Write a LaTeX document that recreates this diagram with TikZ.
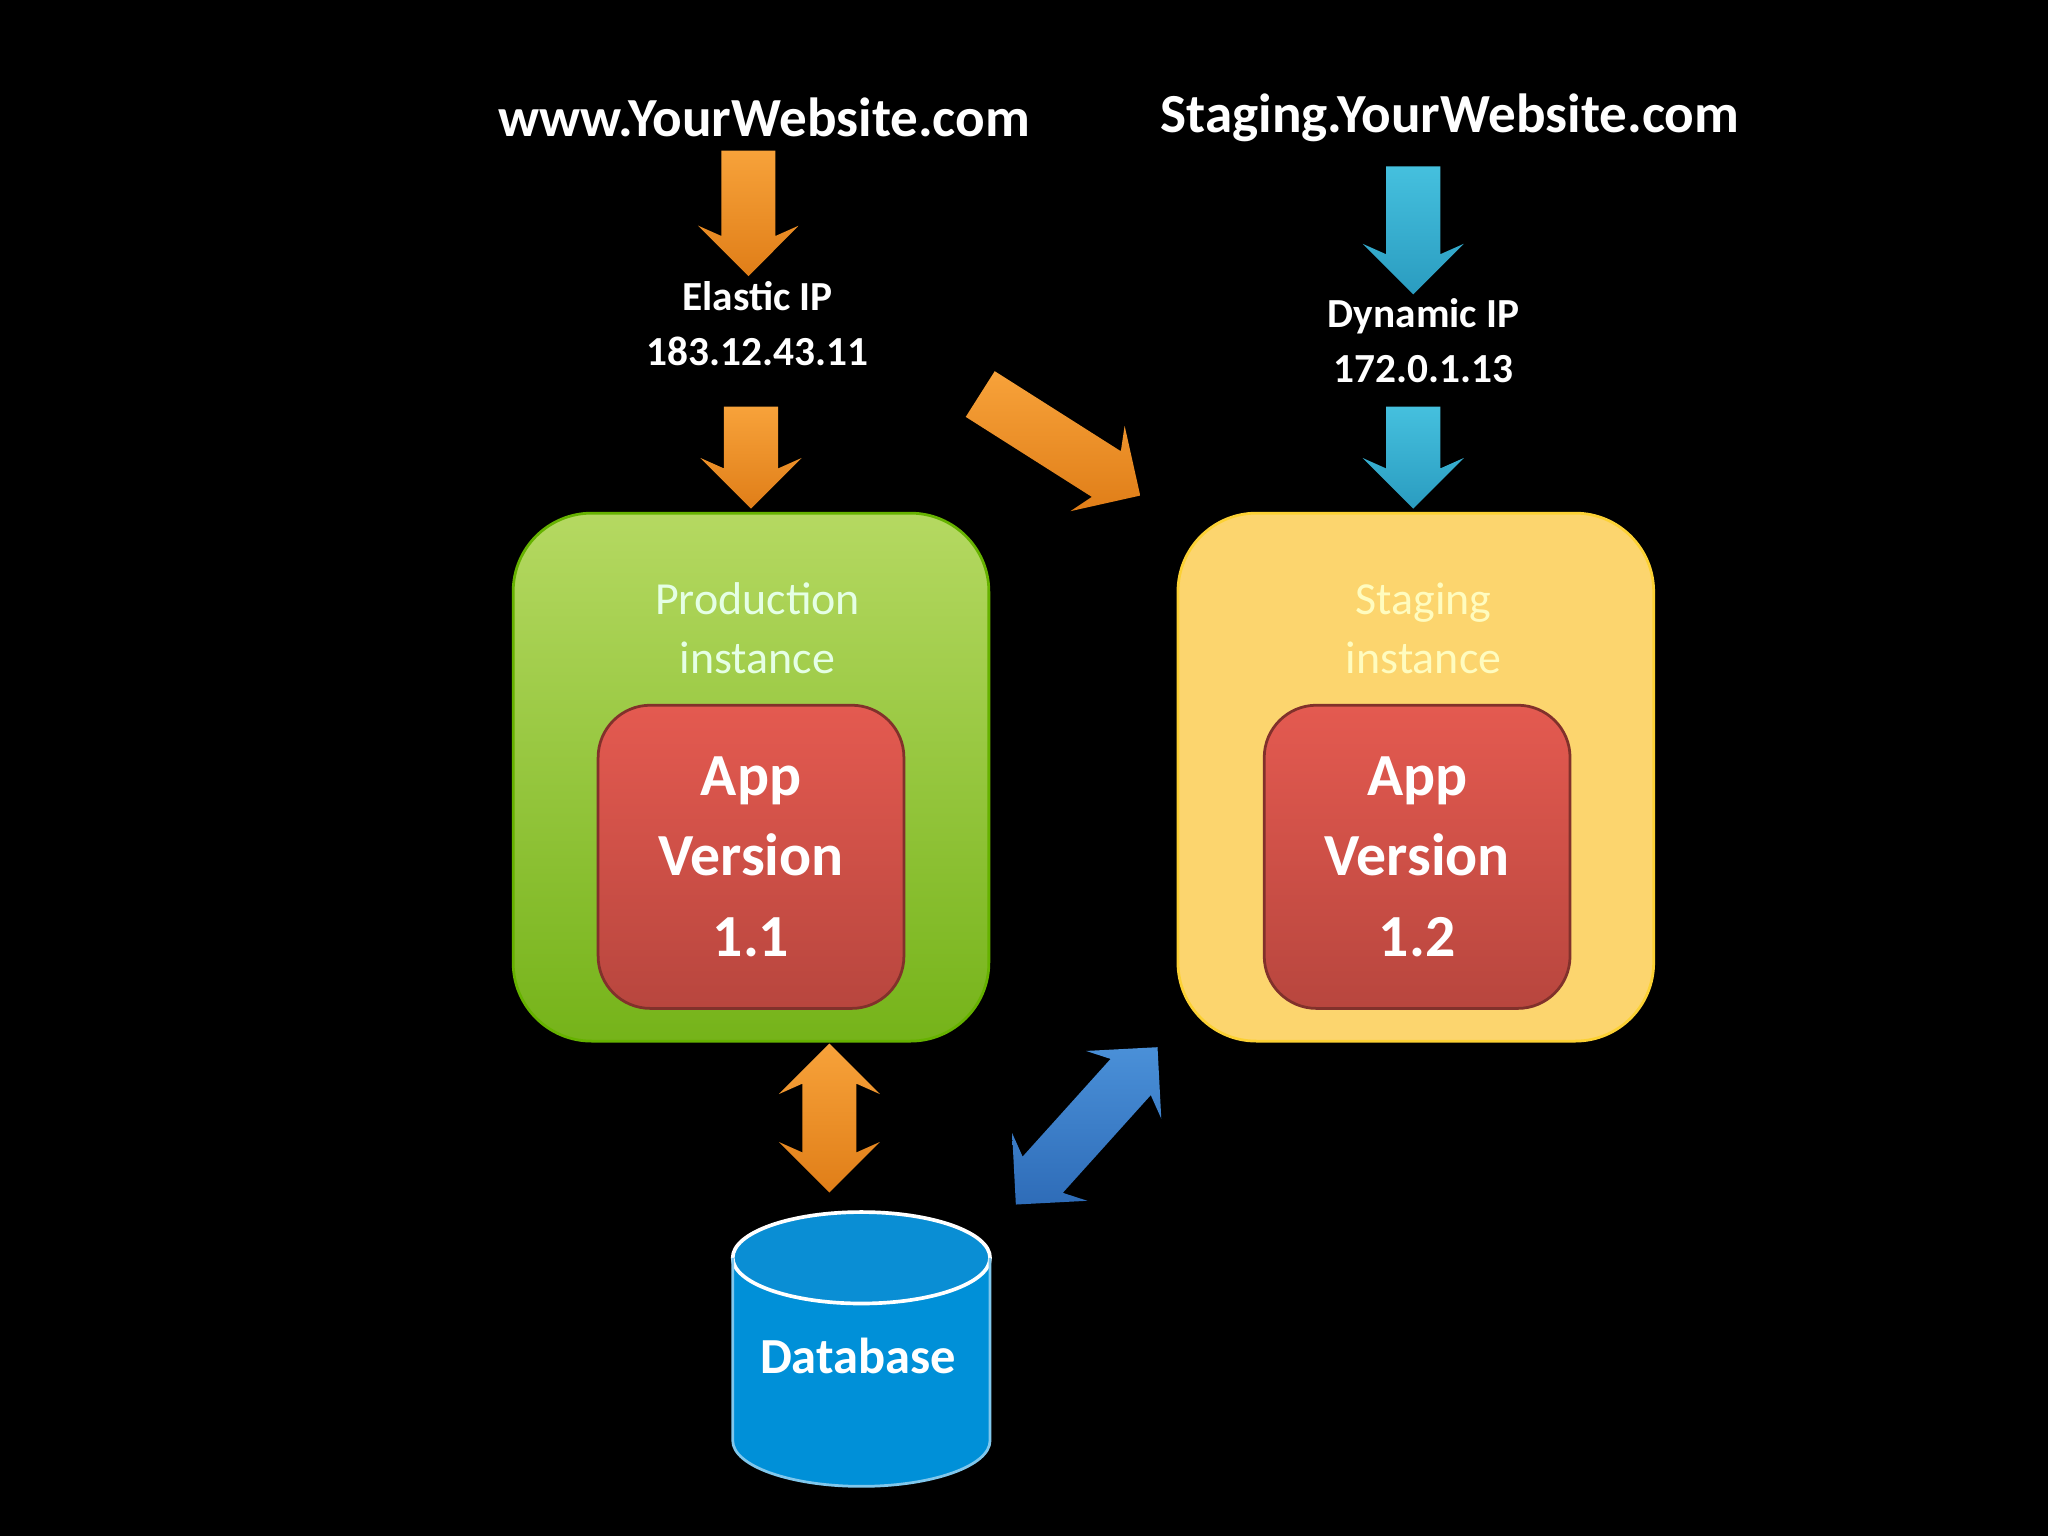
\documentclass[tikz,border=0pt]{standalone}
\usepackage{fontspec}
\setmainfont{Carlito}
\usetikzlibrary{shapes.arrows}
\definecolor{org}{HTML}{F7A23A}
\definecolor{orgd}{HTML}{E07E18}
\definecolor{cy}{HTML}{45C0DE}
\definecolor{cyd}{HTML}{2A9CC0}
\definecolor{bl}{HTML}{4A90D8}
\definecolor{bld}{HTML}{2E6CB8}
\definecolor{rt}{HTML}{E45A50}
\definecolor{rb}{HTML}{B8463E}
\definecolor{dbc}{HTML}{0090D8}
\definecolor{dbt}{HTML}{0A8ED4}
\tikzset{
 lbl/.style={text=white,font=\bfseries\fontsize{12}{14}\selectfont,align=center},
 sm/.style={text=white,font=\bfseries\fontsize{9}{12}\selectfont,align=center},
 fat/.style={single arrow,inner sep=0.2cm,single arrow head extend=0.18cm,single arrow head indent=0.08cm,minimum height=#1},
 dfat/.style={double arrow,inner sep=0.2cm,double arrow head extend=0.18cm,double arrow head indent=0.08cm,minimum height=#1},
 inst/.style={rounded corners=0.6cm,minimum width=3.64cm,minimum height=4.04cm,draw=#1,line width=0.6pt},
 app/.style={rounded corners=0.4cm,minimum width=2.34cm,minimum height=2.32cm,top color=rt,bottom color=rb,draw=rb!70!black,line width=0.6pt,text=white,font=\bfseries\fontsize{13}{17.5}\selectfont,align=center},
}
\begin{document}
\begin{tikzpicture}[x=0.01cm,y=-0.01cm]
\fill[black] (0,0) rectangle (1568,1176);
\useasboundingbox (0,0) rectangle (1568,1176);
\node[lbl] (www) at (585,90) {www.YourWebsite.com};
\node[lbl] (stg) at (1110,90) {Staging.YourWebsite.com};
\node[fat=0.96cm,top color=org,bottom color=orgd,rotate=-90] (a1) at (573,153) {};
\node[sm] (eip) at (580,248) {Elastic IP\\183.12.43.11};
\node[fat=0.78cm,top color=org,bottom color=orgd,rotate=-90] (a2) at (575,340) {};
\node[fat=0.98cm,top color=cy,bottom color=cyd,rotate=-90] (b1) at (1082,166) {};
\node[sm] (dip) at (1090,261) {Dynamic IP\\172.0.1.13};
\node[fat=0.78cm,top color=cy,bottom color=cyd,rotate=-90] (b2) at (1082,340) {};
\node[fat=1.45cm,top color=org,bottom color=orgd,rotate=-32.4] (a3) at (803,335) {};
\node[inst=green!50!black!60!yellow,top color=green!30!yellow!55!white!85!black,bottom color=green!45!black!60!yellow!90!white] (prod) at (575,595) {};
\node[font=\fontsize{10}{13}\selectfont,text=white!90!green,align=center] at (580,481) {Production\\instance};
\node[app] (app1) at (575,656) {App\\Version\\1.1};
\node[inst=yellow!60!orange!80!white,fill=yellow!45!orange!55!white] (stage) at (1084,595) {};
\node[font=\fontsize{10}{13}\selectfont,text=yellow!25!white,align=center] at (1090,481) {Staging\\instance};
\node[app] (app2) at (1085,656) {App\\Version\\1.2};
\node[dfat=1.14cm,top color=org,bottom color=orgd,rotate=90] (a4) at (635,856) {};
\node[dfat=1.62cm,top color=bl,bottom color=bld,rotate=48] (b3) at (832,862) {};
\fill[dbc] (561,963) rectangle (758,1103);
\fill[dbc] (659.5,1103) ellipse[x radius=98.5,y radius=35];
\fill[dbt] (659.5,963) ellipse[x radius=98.5,y radius=35];
\draw[white,line width=0.8pt] (659.5,963) ellipse[x radius=98.5,y radius=35];
\draw[white!50!dbc,line width=0.6pt] (561,963) -- (561,1103) arc[start angle=180,end angle=360,x radius=98.5,y radius=-35] -- (758,963);
\node[text=white,font=\bfseries\fontsize{11}{14}\selectfont] (db) at (657,1038) {Database};
\end{tikzpicture}
\end{document}
